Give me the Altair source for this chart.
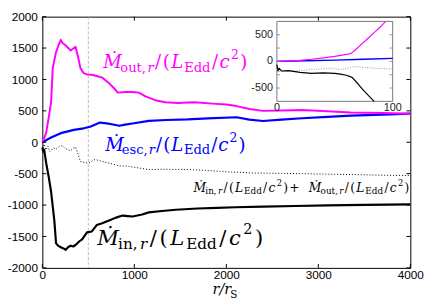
import altair as alt
import pandas as pd

# ---------------- main panel data (r / r_S , Mdot / (L_Edd/c^2)) ----------------
out_r = [0, 40, 70, 95, 113, 148, 180, 200, 220, 255, 308, 361, 390, 414, 450, 485, 540, 591, 650, 732,
         780, 820, 900, 980, 1050, 1121, 1227, 1334, 1475, 1652, 1850, 2000, 2111, 2250, 2398, 2600,
         2822, 3100, 3353, 3700, 4000]
out_v = [0, 140, 400, 640, 1180, 1430, 1560, 1630, 1580, 1540, 1460, 1520, 1350, 1180, 1100, 1080, 1075,
         1056, 1030, 930, 860, 790, 800, 800, 790, 730, 670, 636, 626, 636, 615, 600, 576, 530, 500, 505,
         515, 495, 474, 465, 455]

esc_r = [0, 95, 200, 343, 449, 520, 626, 700, 767, 838, 900, 979, 1157, 1350, 1581, 1800, 2111, 2250,
         2398, 2600, 2822, 3100, 3353, 3700, 4000]
esc_v = [0, 75, 145, 197, 222, 247, 313, 300, 283, 262, 280, 298, 340, 355, 364, 380, 398, 360, 338, 360,
         383, 405, 424, 440, 455]

in_r = [0, 10, 20, 42, 70, 95, 130, 149, 175, 200, 230, 255, 280, 308, 335, 361, 400, 432, 485, 538, 591,
        650, 732, 800, 873, 930, 980, 1085, 1157, 1300, 1450, 1686, 1900, 2100, 2400, 2748, 3100, 3500, 4000]
in_v = [-80, -150, -120, -333, -560, -788, -1242, -1610, -1650, -1671, -1690, -1712, -1670, -1647, -1660,
        -1636, -1580, -1545, -1434, -1420, -1318, -1290, -1242, -1200, -1167, -1175, -1182, -1151, -1116,
        -1095, -1075, -1055, -1045, -1035, -1025, -1015, -1005, -998, -990]

sum_r = [0, 20, 40, 60, 80, 95, 120, 150, 180, 200, 220, 250, 280, 308, 340, 361, 390, 414, 450, 502, 573,
         640, 697, 770, 838, 944, 1050, 1157, 1300, 1581, 1800, 2000, 2300, 2600, 3000, 3400, 3700, 4000]
sum_v = [-100, -30, -120, -60, -150, -131, -90, -110, -70, -60, -56, -100, -120, -131, -90, -76, -200, -308,
         -320, -333, -273, -300, -323, -350, -374, -384, -410, -434, -430, -434, -450, -470, -490, -495,
         -505, -515, -525, -530]

marker_r = [500]

x_ticks = [0, 1000, 2000, 3000, 4000]
y_ticks = [-2000, -1500, -1000, -500, 0, 500, 1000, 1500, 2000]

# ---------------- inset data (r / r_S from 0 to 100) ----------------
ins_out_r = [0, 10, 20, 30, 40, 50, 60, 64, 67, 72, 78, 84, 90, 94]
ins_out_v = [0, 8, 20, 40, 65, 95, 130, 150, 200, 300, 420, 540, 660, 750]
ins_esc_r = [0, 25, 50, 75, 100]
ins_esc_v = [0, 12, 25, 40, 55]
ins_in_r = [0, 1, 2, 4, 10, 20, 30, 40, 50, 55, 60, 65, 70, 75, 80, 84]
ins_in_v = [-60, -180, -130, -180, -175, -205, -225, -215, -225, -240, -260, -300, -420, -550, -660, -750]
ins_sum_r = [0, 10, 20, 30, 40, 46, 55, 60, 66, 72, 83, 90, 98, 100]
ins_sum_v = [-190, -180, -175, -150, -140, -125, -150, -140, -95, -105, -125, -135, -143, -140]
ins_y_ticks = [-500, -250, 0, 250, 500]
ins_y_labels = ["-500", "0", "500"]
ins_y_label_vals = [-500, 0, 500]
ins_x_label_vals = [0, 100]
ins_x_labels = ["0", "100"]

MAGENTA = "#ff00ff"
BLUE = "#0000ff"
PAD_TOP = 6
W, H = 375, 256
X0, Y0 = 43, 8 + PAD_TOP  # page position of the plot origin


def ymap(y_ref):
    """map a page y measured on the reference (plot 6..270) to this layout"""
    return Y0 + (y_ref - 6) * H / 264.0


xs_main = alt.Scale(domain=[0, 4000], nice=False, zero=False)
ys_main = alt.Scale(domain=[-2000, 2000], nice=False, zero=False)
ax_x = alt.Axis(values=x_ticks, title=None, ticks=False, domain=False, grid=False,
                labelFont="Liberation Sans", labelFontSize=12, labelColor="#000",
                labelPadding=2, labelFlush=False, labelExpr="'' + datum.value")
ax_y = alt.Axis(values=y_ticks, title=None, ticks=False, domain=False, grid=False,
                labelFont="Liberation Sans", labelFontSize=12, labelColor="#000",
                labelPadding=5, labelExpr="'' + datum.value")


def main_line(xs, ys, color, width, dash=None):
    kw = dict(color=color, strokeWidth=width, strokeJoin="round")
    if dash:
        kw["strokeDash"] = dash
    return alt.Chart(pd.DataFrame({"r": xs, "v": ys})).mark_line(**kw).encode(
        x=alt.X("r:Q", scale=xs_main, axis=ax_x),
        y=alt.Y("v:Q", scale=ys_main, axis=ax_y),
        order="r:Q",
    )


vline = alt.Chart(pd.DataFrame({"r": marker_r})).mark_rule(
    color="#aaaaaa", strokeDash=[3, 2], strokeWidth=0.8).encode(
    x=alt.X("r:Q", scale=xs_main, axis=ax_x), y=alt.value(0), y2=alt.value(H))

xt = pd.DataFrame({"r": x_ticks})
yt = pd.DataFrame({"v": y_ticks})
tick_b = alt.Chart(xt).mark_rule(color="#000", strokeWidth=1).encode(
    x=alt.X("r:Q", scale=xs_main, axis=ax_x), y=alt.value(H), y2=alt.value(H - 4))
tick_t = alt.Chart(xt).mark_rule(color="#000", strokeWidth=1).encode(
    x=alt.X("r:Q", scale=xs_main, axis=ax_x), y=alt.value(0), y2=alt.value(4))
tick_l = alt.Chart(yt).mark_rule(color="#000", strokeWidth=1).encode(
    y=alt.Y("v:Q", scale=ys_main, axis=ax_y), x=alt.value(0), x2=alt.value(4))
tick_r = alt.Chart(yt).mark_rule(color="#000", strokeWidth=1).encode(
    y=alt.Y("v:Q", scale=ys_main, axis=ax_y), x=alt.value(W), x2=alt.value(W - 4))

main = alt.layer(
    vline,
    main_line(sum_r, sum_v, "#000", 1.0, [1, 2]),
    main_line(in_r, in_v, "#000", 2.2),
    main_line(esc_r, esc_v, BLUE, 2.2),
    main_line(out_r, out_v, MAGENTA, 2.0),
    tick_b, tick_t, tick_l, tick_r,
)

# ---------------- inset ----------------
IXL, IXR = 282 - X0, 400 - X0
IYT, IYB = ymap(11) - Y0, ymap(95) - Y0
in_x = alt.Scale(domain=[0, 100], range=[IXL, IXR], nice=False, zero=False)
in_y = alt.Scale(domain=[-750, 750], range=[IYB, IYT], nice=False, zero=False)


def inset_line(xs, ys, color, width, dash=None):
    kw = dict(color=color, strokeWidth=width, strokeJoin="round")
    if dash:
        kw["strokeDash"] = dash
    return alt.Chart(pd.DataFrame({"r": xs, "v": ys})).mark_line(**kw).encode(
        x=alt.X("r:Q", scale=in_x, axis=None),
        y=alt.Y("v:Q", scale=in_y, axis=None),
        order="r:Q",
    )


frame = alt.Chart(pd.DataFrame({"a": [0], "b": [100], "c": [-750], "d": [750]})).mark_rect(
    fill="white", stroke="#777777", strokeWidth=1).encode(
    x=alt.X("a:Q", scale=in_x, axis=None), x2="b:Q",
    y=alt.Y("c:Q", scale=in_y, axis=None), y2="d:Q")
iyt = pd.DataFrame({"v": ins_y_ticks})
itick_r = alt.Chart(iyt).mark_rule(color="#777777", strokeWidth=0.8).encode(
    y=alt.Y("v:Q", scale=in_y, axis=None), x=alt.value(IXR), x2=alt.value(IXR - 3))
itick_l = alt.Chart(iyt).mark_rule(color="#777777", strokeWidth=0.8).encode(
    y=alt.Y("v:Q", scale=in_y, axis=None), x=alt.value(IXL), x2=alt.value(IXL + 3))
iylab = alt.Chart(pd.DataFrame({"v": ins_y_label_vals, "t": ins_y_labels})).mark_text(
    align="right", baseline="middle", font="Liberation Sans", fontSize=11, color="#222").encode(
    y=alt.Y("v:Q", scale=in_y, axis=None), x=alt.value(IXL - 4), text="t:N")
ixlab = alt.Chart(pd.DataFrame({"r": ins_x_label_vals, "t": ins_x_labels})).mark_text(
    align="center", baseline="top", font="Liberation Sans", fontSize=11, color="#222").encode(
    x=alt.X("r:Q", scale=in_x, axis=None), y=alt.value(IYB + 1), text="t:N")

inset = alt.layer(
    frame,
    inset_line(ins_sum_r, ins_sum_v, "#999999", 1.0, [1, 1.5]),
    inset_line(ins_esc_r, ins_esc_v, BLUE, 1.3),
    inset_line(ins_in_r, ins_in_v, "#000", 1.2),
    inset_line(ins_out_r, ins_out_v, MAGENTA, 1.2),
    itick_r, itick_l, iylab, ixlab,
)

# ---------------- math-style labels, laid out piece by piece ----------------
FONT = "DejaVu Serif"
W_RM = {"a": .596, "c": .560, "d": .640, "e": .592, "i": .320, "n": .644, "o": .602, "s": .513,
        "t": .402, "u": .644, "E": .730, "S": .685, ",": .318, "/": .337, "(": .390, ")": .390,
        "+": .838, "2": .636, "r": .478, " ": .318}
W_IT = {"Ṁ": .863, "M": .863, "L": .637, "c": .560, "r": .478, "/": .337}


def tokens_for(sub):
    return [("Ṁ", "m", "it"), (sub + ",", "b", "rm"), ("r", "b", "it"), ("/", "m", "rm"),
            ("(", "m", "rm"), ("L", "m", "it"), ("Edd", "b", "rm"), ("/", "m", "rm"),
            ("c", "m", "it"), ("2", "p", "rm"), (")", "m", "rm")]


def tok_size(kind, S):
    return S if kind == "m" else (0.72 * S if kind == "b" else 0.68 * S)


def tok_width(tok, S):
    txt, kind, style = tok
    tab = W_IT if style == "it" else W_RM
    return sum(tab.get(ch, 0.6) for ch in txt) * tok_size(kind, S)


def layout(tokens, x_start, x_end, base, S, color):
    nat = sum(tok_width(t, S) for t in tokens)
    gap = max(0.0, (x_end - x_start - nat) / max(1, len(tokens) - 1))
    rows, x = [], x_start
    for tok in tokens:
        txt, kind, style = tok
        fs = tok_size(kind, S)
        y = base if kind == "m" else (base + 0.2 * S if kind == "b" else base - 0.5 * S)
        rows.append({"px": x - X0, "py": y - Y0, "t": txt, "fs": fs, "col": color, "st": style})
        x += tok_width(tok, S) + gap
    return rows


rows = []
rows += layout(tokens_for("out"), 105, 252, ymap(60), 18.5, MAGENTA)
rows += layout(tokens_for("esc"), 107, 250, ymap(147), 18.5, BLUE)
rows += layout(tokens_for("in"), 99, 268, ymap(246), 21.5, "#000")
sum_tokens = tokens_for("in") + [(" + ", "m", "rm")] + tokens_for("out")
rows += layout(sum_tokens, 197, 417, ymap(190), 12.5, "#000")
# axis title r/r_S
rows.append({"px": 216.5 - X0, "py": 297 - Y0, "t": "r/r", "fs": 14.5, "col": "#000", "st": "it"})
rows.append({"px": 234.5 - X0, "py": 300.5 - Y0, "t": "S", "fs": 10.5, "col": "#000", "st": "rm"})
rows_df = pd.DataFrame(rows)


def text_layer(style, font):
    return alt.Chart(rows_df[rows_df["st"] == style]).mark_text(
        align="left", baseline="alphabetic", font=font,
        fontStyle="italic" if style == "it" else "normal").encode(
        x=alt.X("px:Q", scale=None, axis=None),
        y=alt.Y("py:Q", scale=None, axis=None),
        text="t:N",
        size=alt.Size("fs:Q", scale=None, legend=None),
        color=alt.Color("col:N", scale=None, legend=None),
    )


labels = alt.layer(text_layer("it", FONT), text_layer("rm", FONT))

chart = alt.layer(main, inset, labels).resolve_scale(
    x="independent", y="independent"
).properties(
    width=W, height=H,
    autosize=alt.AutoSizeParams(type="none"),
    padding={"left": 35, "top": PAD_TOP, "right": 18, "bottom": 34},
).configure_view(stroke="#000", strokeWidth=1)

chart.save("out.html", embed_options={"renderer": "svg", "actions": False})
